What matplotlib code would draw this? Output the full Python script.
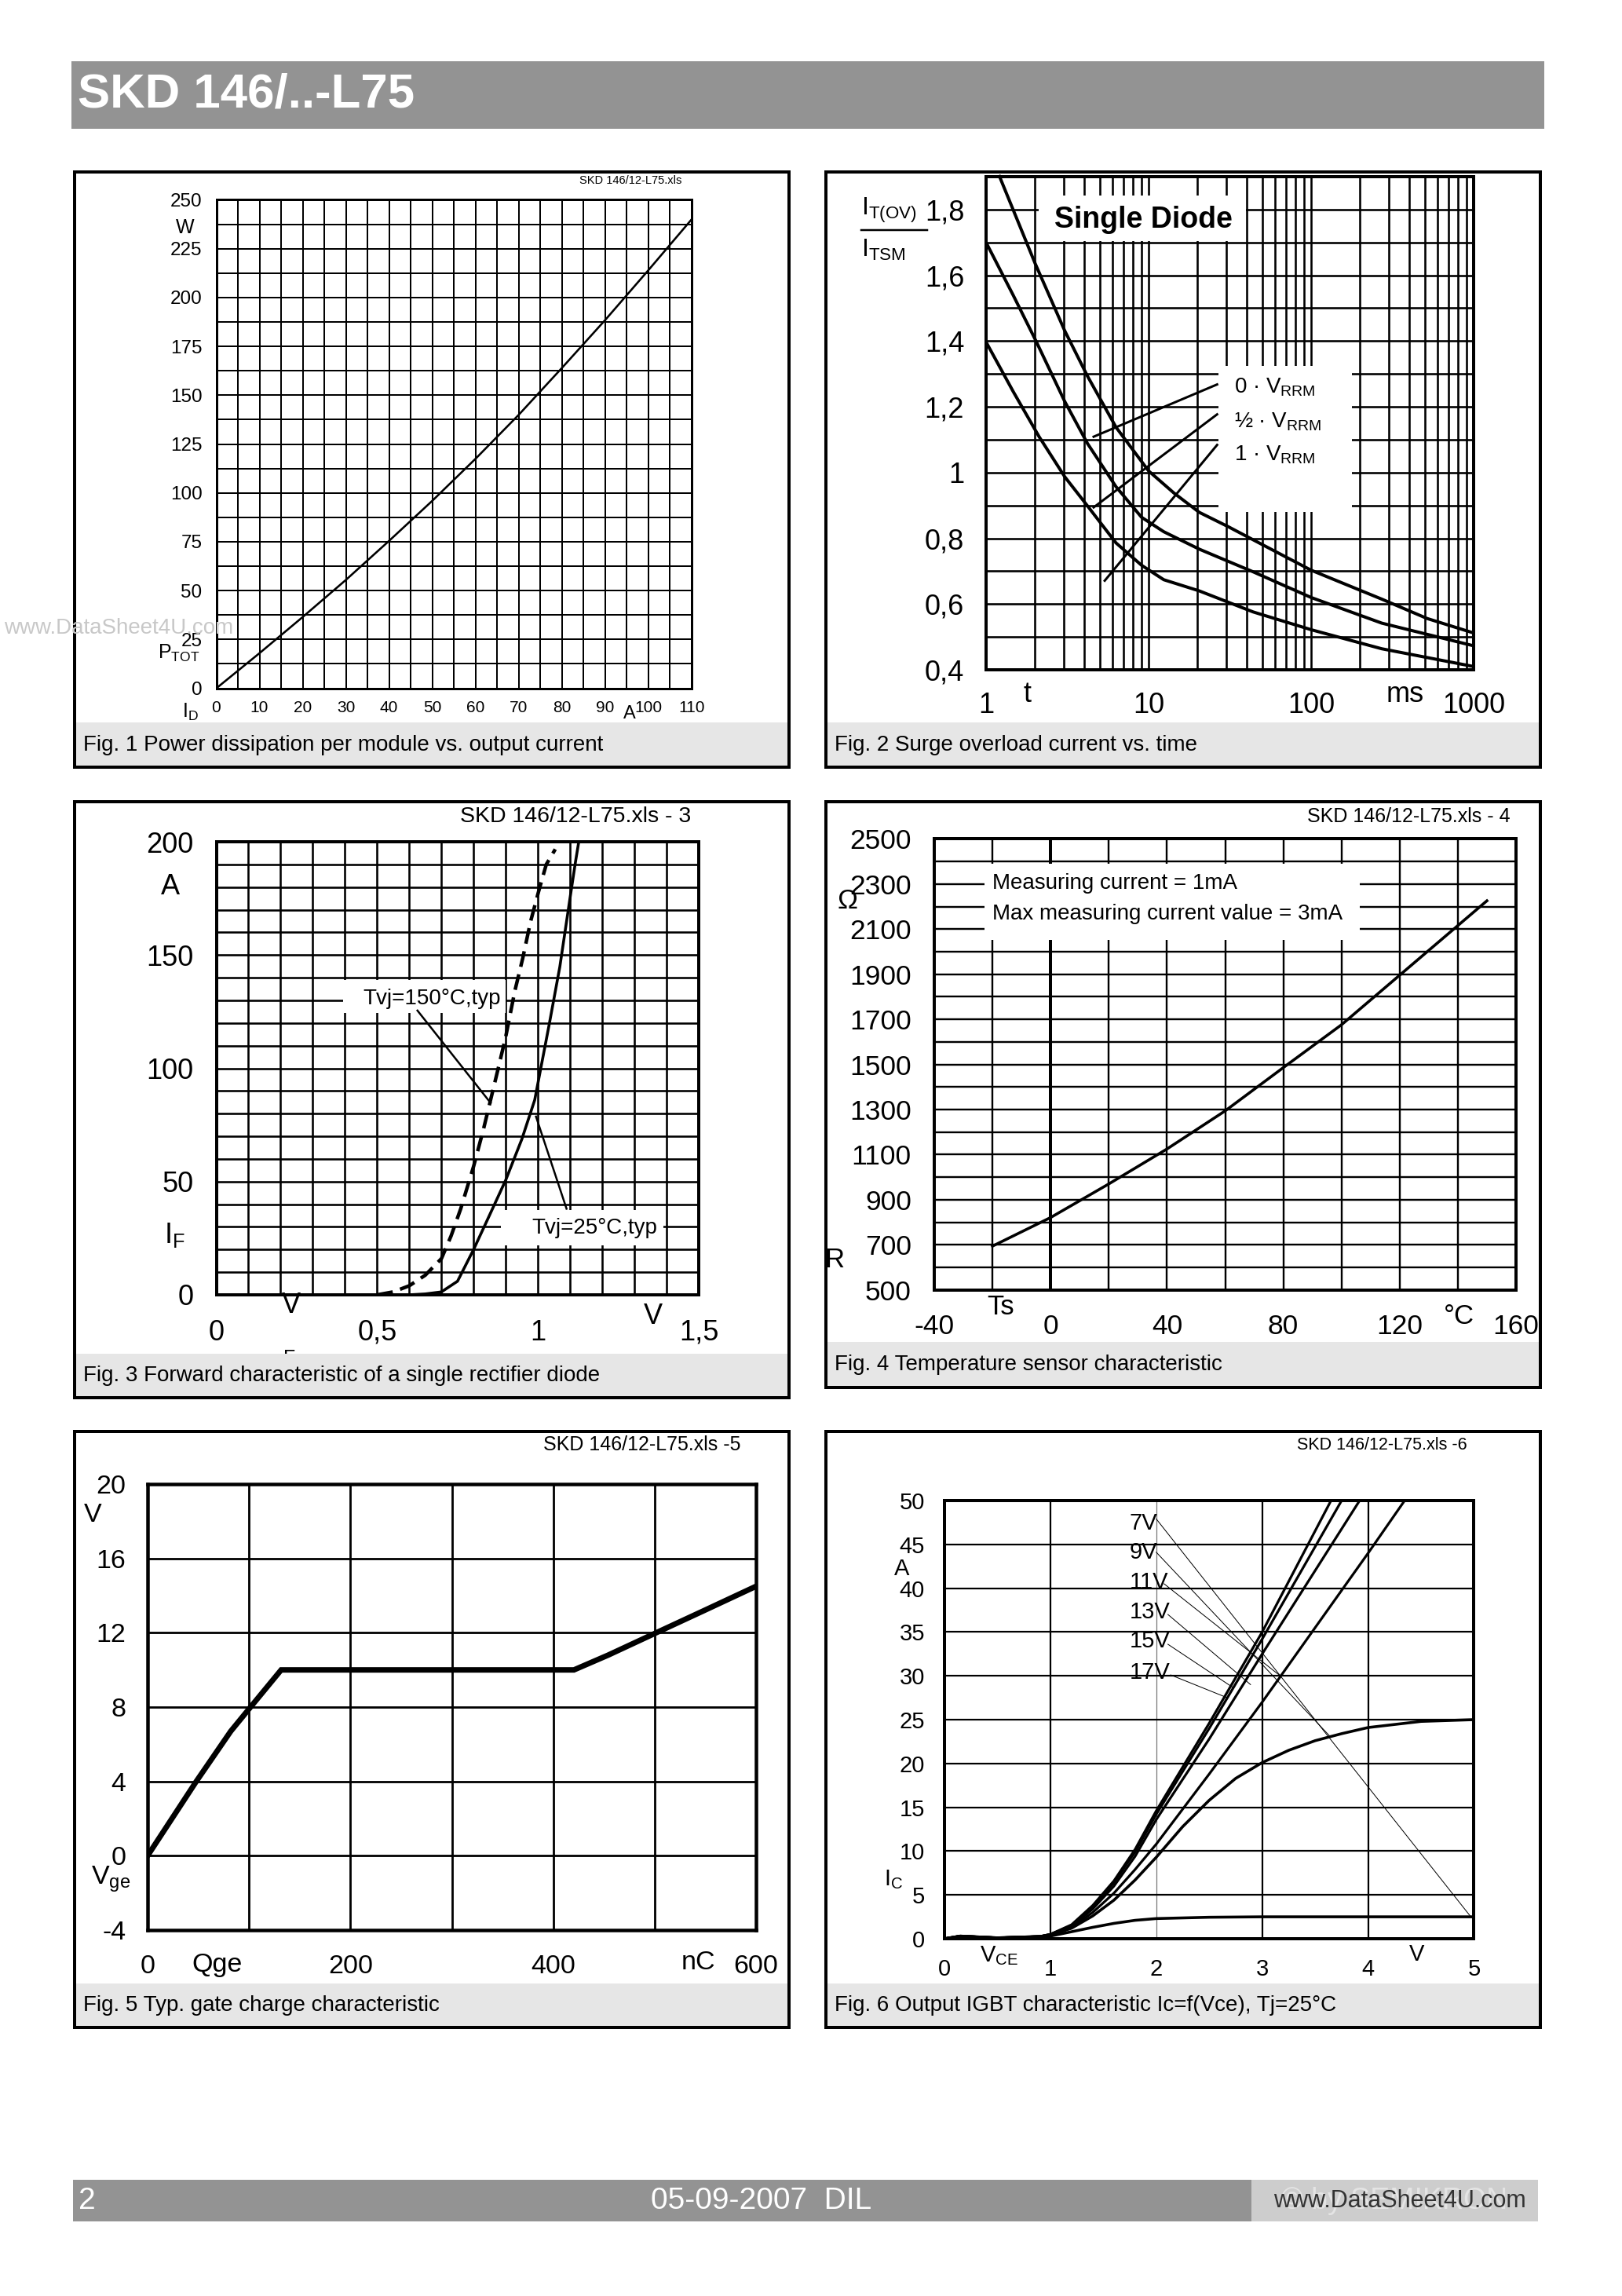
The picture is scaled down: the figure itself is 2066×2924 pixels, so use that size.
import matplotlib
matplotlib.use('Agg')
import matplotlib.pyplot as plt
from matplotlib.patches import Rectangle
from matplotlib.ticker import MultipleLocator, LogLocator, NullFormatter
import numpy as np

plt.rcParams['font.family'] = ['Liberation Sans', 'DejaVu Sans']
plt.rcParams['mathtext.fontset'] = 'custom'
plt.rcParams['mathtext.rm'] = 'Liberation Sans'
plt.rcParams['mathtext.it'] = 'Liberation Sans:italic'
plt.rcParams['mathtext.bf'] = 'Liberation Sans:bold'
plt.rcParams['mathtext.default'] = 'regular'
plt.rcParams['axes.unicode_minus'] = False

# ---------------- data ----------------
# Fig 1: power dissipation vs output current
p1_current = [0, 10, 20, 30, 40, 50, 60, 70, 80, 90, 100, 110]
p1_power = [0, 18, 36.5, 55.5, 75.5, 96, 117.5, 140, 164, 188.5, 214, 240]

# Fig 2: surge overload current vs time
p2_t_0 = [1.2, 2.0, 3.05, 4.2, 6.3, 10, 14.3, 20.5, 31, 50, 100, 272, 518, 1000]
p2_r_0 = [1.905, 1.637, 1.431, 1.294, 1.138, 1.005, 0.938, 0.879, 0.835, 0.781, 0.703, 0.615, 0.556, 0.512]
p2_t_half = [1, 1.47, 2.02, 3.05, 4.2, 6.3, 9.05, 12.4, 20.5, 44, 100, 272, 1000]
p2_r_half = [1.70, 1.539, 1.402, 1.216, 1.089, 0.957, 0.864, 0.820, 0.767, 0.698, 0.620, 0.542, 0.473]
p2_t_1 = [1, 1.47, 2.12, 3.05, 4.2, 6.3, 9.05, 12.4, 20.5, 44, 100, 272, 1000]
p2_r_1 = [1.397, 1.246, 1.109, 0.987, 0.899, 0.786, 0.718, 0.674, 0.640, 0.576, 0.522, 0.464, 0.410]
p2_labels = ['0 · $V_{RRM}$', '½ · $V_{RRM}$', '1 · $V_{RRM}$']

# Fig 3: forward characteristic
p3_v25 = [0.50, 0.60, 0.65, 0.70, 0.75, 0.80, 0.85, 0.90, 0.95, 0.99, 1.035, 1.068, 1.10, 1.117, 1.127]
p3_i25 = [0, 0, 0.4, 1.3, 6, 20, 35.3, 50.7, 68.7, 86, 119.3, 144.7, 175.3, 191.3, 200]
p3_v150 = [0.50, 0.55, 0.60, 0.65, 0.70, 0.73, 0.76, 0.80, 0.83, 0.855, 0.88, 0.90, 0.928, 0.953, 0.977, 1.002, 1.026, 1.054]
p3_i150 = [0, 1.3, 4, 8.7, 16, 26, 38, 56.7, 72.7, 87.3, 102, 114, 134, 148.7, 164.7, 178, 190, 196.7]

# Fig 4: temperature sensor
p4_temp = [-20, 0, 20, 40, 60, 80, 100, 120, 140, 150]
p4_res = [694, 821, 970, 1125, 1294, 1486, 1676, 1896, 2116, 2226]

# Fig 5: gate charge
p5_charge = [0, 48, 82, 101.5, 131.7, 420.4, 454.3, 501.6, 549, 600]
p5_vge = [0, 4, 6.7, 8.0, 10.0, 10.0, 10.8, 12, 13.2, 14.5]

# Fig 6: output IGBT characteristic
p6_v_steep = [0, 0.15, 0.5, 0.9, 1.0, 1.2, 1.4, 1.6, 1.8, 2.0, 2.5, 3.0]
p6_i17 = [0, 0.3, 0.1, 0.25, 0.5, 1.6, 3.8, 6.6, 10.2, 14.6, 24.6, 35.0]
p6_i15 = [0, 0.3, 0.1, 0.25, 0.5, 1.5, 3.6, 6.4, 9.9, 14.2, 24.0, 34.2]
p6_i13 = [0, 0.3, 0.1, 0.25, 0.5, 1.4, 3.4, 6.0, 9.4, 13.6, 22.8, 32.5]
p6_end17, p6_end15, p6_end13 = 3.65, 3.75, 3.92
p6_v11 = [0, 0.15, 0.5, 0.9, 1.0, 1.2, 1.4, 1.6, 1.8, 2.0, 2.5, 3.0, 3.5, 4.0, 4.345]
p6_i11 = [0, 0.3, 0.1, 0.25, 0.45, 1.3, 3.0, 5.2, 7.9, 10.8, 18.8, 27.0, 35.5, 44.0, 50]
p6_v9 = [0, 0.15, 0.5, 0.9, 1.0, 1.2, 1.4, 1.6, 1.8, 2.0, 2.25, 2.5, 2.75, 3.0, 3.25, 3.5, 3.75, 4.0, 4.5, 5.0]
p6_i9 = [0, 0.3, 0.1, 0.25, 0.4, 1.2, 2.6, 4.4, 6.7, 9.3, 12.8, 15.8, 18.3, 20.1, 21.5, 22.6, 23.4, 24.1, 24.8, 25.0]
p6_v7 = [0, 0.15, 0.5, 0.9, 1.0, 1.2, 1.4, 1.6, 1.8, 2.0, 2.5, 3.0, 5.0]
p6_i7 = [0, 0.3, 0.1, 0.25, 0.3, 0.8, 1.3, 1.75, 2.1, 2.3, 2.45, 2.5, 2.5]
p6_labels = ['7V', '9V', '11V', '13V', '15V', '17V']

captions = [
    'Fig. 1 Power dissipation per module vs. output current',
    'Fig. 2 Surge overload current vs. time',
    'Fig. 3 Forward characteristic of a single rectifier diode',
    'Fig. 4 Temperature sensor characteristic',
    'Fig. 5 Typ. gate charge characteristic',
    'Fig. 6 Output IGBT characteristic Ic=f(Vce), Tj=25°C',
]

# ---------------- helpers ----------------
W, H = 2066, 2924
fig = plt.figure(figsize=(W / 100, H / 100), dpi=100)


def pt(px):
    return px * 0.72


def make_ax(L, T, R, B):
    ax = fig.add_axes([L / W, 1 - B / H, (R - L) / W, (B - T) / H])
    ax._pxbox = (L, T, R, B)
    return ax


def ptext(ax, x, y, s, **kw):
    L, T, R, B = ax._pxbox
    kw.setdefault('ha', 'center')
    kw.setdefault('va', 'center')
    return ax.text((x - L) / (R - L), (B - y) / (B - T), s, transform=ax.transAxes,
                   clip_on=False, **kw)


def style(ax, spine_px, grid_px, xsize, ysize, xpad, ypad):
    ax.set_axisbelow(True)
    ax.grid(True, which='both', color='black', lw=pt(grid_px))
    ax.tick_params(which='both', length=0)
    ax.tick_params(axis='x', labelsize=xsize, pad=xpad)
    ax.tick_params(axis='y', labelsize=ysize, pad=ypad)
    for s in ax.spines.values():
        s.set_linewidth(pt(spine_px))
        s.set_zorder(5)


# ---------------- Fig 1 ----------------
ax1 = make_ax(275.5, 254.4, 881, 876.6)
ax1.plot(p1_current, p1_power, color='black', lw=pt(2.6), zorder=3)
ax1.set_xlim(0, 110)
ax1.set_ylim(0, 250)
ax1.set_xticks(np.arange(0, 111, 10))
ax1.set_yticks(np.arange(0, 251, 25))
ax1.xaxis.set_minor_locator(MultipleLocator(5))
ax1.yaxis.set_minor_locator(MultipleLocator(12.5))
style(ax1, 3, 2, 15, 17.5, 11, 13)
ptext(ax1, 236, 290, 'W', fontsize=18)
ptext(ax1, 228, 832, '$P_{TOT}$', fontsize=18)
ptext(ax1, 242, 907, '$I_D$', fontsize=18)
ptext(ax1, 802, 909, 'A', fontsize=17)
ptext(ax1, 803, 230, 'SKD 146/12-L75.xls', fontsize=10.5)

# ---------------- Fig 2 ----------------
ax2 = make_ax(1256, 225, 1877, 853)
ax2.set_xscale('log')
ax2.set_xlim(1, 1000)
ax2.set_ylim(0.4, 1.9)
ax2.set_xticks([1, 10, 100, 1000], ['1', '10', '100', '1000'])
ax2.xaxis.set_minor_locator(LogLocator(base=10, subs=range(2, 10)))
ax2.xaxis.set_minor_formatter(NullFormatter())
ax2.set_yticks([0.4, 0.6, 0.8, 1.0, 1.2, 1.4, 1.6, 1.8],
               ['0,4', '0,6', '0,8', '1', '1,2', '1,4', '1,6', '1,8'])
ax2.yaxis.set_minor_locator(MultipleLocator(0.1))
style(ax2, 4, 2.6, 26, 26, 20, 20)
for tx, ry in [(p2_t_0, p2_r_0), (p2_t_half, p2_r_half), (p2_t_1, p2_r_1)]:
    ax2.plot(tx, ry, color='black', lw=pt(4), zorder=3, clip_on=False, solid_capstyle='butt')
ax2.add_patch(Rectangle((2.117, 1.705), 39.7 - 2.117, 1.842 - 1.705, facecolor='white',
                        edgecolor='none', zorder=1))
ax2.add_patch(Rectangle((27.0, 0.88), 177.8 - 27.0, 1.325 - 0.88, facecolor='white',
                        edgecolor='none', zorder=1))
ptext(ax2, 1456, 280, 'Single Diode', fontsize=27, fontweight='bold')
for (x0, y0, x1, y1) in [(4.59, 1.109, 26.4, 1.268), (4.59, 0.894, 26.4, 1.177),
                         (5.37, 0.671, 26.4, 1.084)]:
    ax2.plot([x0, x1], [y0, y1], color='black', lw=pt(3), zorder=3)
for lab, yy in zip(p2_labels, [493, 537, 579]):
    ptext(ax2, 1572, yy, lab, fontsize=20, ha='left')
ptext(ax2, 1097, 268, '$I_{T(OV)}$', fontsize=23, ha='left')
ptext(ax2, 1097, 318, '$I_{TSM}$', fontsize=23, ha='left')
ax2.plot([(1097 - 1256) / 621, (1181 - 1256) / 621], [(853 - 293) / 628] * 2,
         transform=ax2.transAxes, clip_on=False, color='black', lw=pt(2.5))
ptext(ax2, 1309, 884, 't', fontsize=26)
ptext(ax2, 1790, 884, 'ms', fontsize=26)

# ---------------- Fig 3 ----------------
ax3 = make_ax(275.5, 1072, 890, 1649)
ax3.set_xlim(0, 1.5)
ax3.set_ylim(0, 200)
ax3.set_xticks([0, 0.5, 1.0, 1.5], ['0', '0,5', '1', '1,5'])
ax3.set_yticks([0, 50, 100, 150, 200])
ax3.xaxis.set_minor_locator(MultipleLocator(0.1))
ax3.yaxis.set_minor_locator(MultipleLocator(10))
style(ax3, 4, 2.6, 26, 26, 22, 21)
ax3.plot(p3_v25, p3_i25, color='black', lw=pt(3.6), zorder=3)
ax3.plot(p3_v150, p3_i150, color='black', lw=pt(4.5), zorder=3, dashes=(4.5, 2.2))
ax3.add_patch(Rectangle((0.395, 124.5), 0.9 - 0.395, 139 - 124.5, facecolor='white',
                        edgecolor='none', zorder=1))
ax3.add_patch(Rectangle((0.885, 22), 1.39 - 0.885, 37.5 - 22, facecolor='white',
                        edgecolor='none', zorder=1))
ptext(ax3, 550, 1272, 'Tvj=150°C,typ', fontsize=20)
ptext(ax3, 757, 1564, 'Tvj=25°C,typ', fontsize=20)
ax3.plot([0.6254, 0.853], [125.5, 84.7], color='black', lw=pt(2.5), zorder=3)
ax3.plot([0.994, 1.089], [78.7, 38.0], color='black', lw=pt(2.5), zorder=3)
ptext(ax3, 217, 1129, 'A', fontsize=26)
ptext(ax3, 222, 1573, '$I_F$', fontsize=26)
ptext(ax3, 371, 1662, 'V', fontsize=26)
ptext(ax3, 369, 1730, 'F', fontsize=18)
ptext(ax3, 832, 1676, 'V', fontsize=26)
ptext(ax3, 733, 1040, 'SKD 146/12-L75.xls - 3', fontsize=20.5)

# ---------------- Fig 4 ----------------
ax4 = make_ax(1190, 1068.5, 1931, 1642.7)
ax4.set_xlim(-40, 160)
ax4.set_ylim(500, 2500)
ax4.set_xticks(np.arange(-40, 161, 40))
ax4.set_yticks(np.arange(500, 2501, 200))
ax4.xaxis.set_minor_locator(MultipleLocator(20))
ax4.yaxis.set_minor_locator(MultipleLocator(100))
style(ax4, 4, 2.4, 25.5, 25.5, 22, 21)
ax4.axvline(0, color='black', lw=pt(4), zorder=0.6)
ax4.add_patch(Rectangle((-22.7, 2052), 106.2 + 22.7, 2390 - 2052, facecolor='white',
                        edgecolor='none', zorder=1))
ax4.plot(p4_temp, p4_res, color='black', lw=pt(3.6), zorder=3)
ptext(ax4, 1264, 1125, 'Measuring current = 1mA', fontsize=20, ha='left')
ptext(ax4, 1264, 1164, 'Max measuring current value = 3mA', fontsize=20, ha='left')
ptext(ax4, 1080, 1148, 'Ω', fontsize=25)
ptext(ax4, 1063, 1605, 'R', fontsize=25)
ptext(ax4, 1275, 1665, 'Ts', fontsize=25)
ptext(ax4, 1858, 1676, '°C', fontsize=25)
ptext(ax4, 1924, 1040, 'SKD 146/12-L75.xls - 4', fontsize=18, ha='right')

# ---------------- Fig 5 ----------------
ax5 = make_ax(188, 1890, 963, 2458)
ax5.set_xlim(0, 600)
ax5.set_ylim(-4, 20)
ax5.set_xticks([0, 200, 400, 600])
ax5.set_yticks(np.arange(-4, 21, 4))
ax5.xaxis.set_minor_locator(MultipleLocator(100))
style(ax5, 4.5, 2.8, 24.5, 24.5, 22, 20)
ax5.plot(p5_charge, p5_vge, color='black', lw=pt(7), zorder=3, solid_joinstyle='miter')
ptext(ax5, 118, 1930, 'V', fontsize=24.5)
ptext(ax5, 116, 2393, '$V_{ge}$', fontsize=24.5, ha='left')
ptext(ax5, 277, 2503, 'Qge', fontsize=24.5)
ptext(ax5, 890, 2500, 'nC', fontsize=24.5)
ptext(ax5, 818, 1840, 'SKD 146/12-L75.xls -5', fontsize=18)

# ---------------- Fig 6 ----------------
ax6 = make_ax(1203, 1911, 1877.5, 2469)
ax6.set_xlim(0, 5)
ax6.set_ylim(0, 50)
ax6.set_xticks(np.arange(0, 6, 1))
ax6.set_yticks(np.arange(0, 51, 5))
style(ax6, 4, 2.2, 21, 21, 18, 18)
gl = ax6.get_xgridlines()
gl[2].set_color('0.45')
gl[2].set_linewidth(pt(1.2))
ax6.plot(p6_v_steep + [p6_end17], p6_i17 + [50], color='black', lw=pt(3.2), zorder=3)
ax6.plot(p6_v_steep + [p6_end15], p6_i15 + [50], color='black', lw=pt(3.2), zorder=3)
ax6.plot(p6_v_steep + [p6_end13], p6_i13 + [50], color='black', lw=pt(3.2), zorder=3)
ax6.plot(p6_v11, p6_i11, color='black', lw=pt(3.2), zorder=3)
ax6.plot(p6_v9, p6_i9, color='black', lw=pt(3.6), zorder=3)
ax6.plot(p6_v7, p6_i7, color='black', lw=pt(3.6), zorder=3)
label_y = [47.4, 44.1, 40.7, 37.25, 33.96, 30.4]
leaders = [(2.0, 47.9, 4.97, 2.5), (2.0, 44.1, 3.64, 23.1), (2.074, 40.5, 3.17, 30.0),
           (2.11, 37.0, 2.89, 29.0), (2.11, 33.6, 2.72, 28.7), (2.136, 30.1, 2.67, 27.5)]
for lab, yy, (x0, y0, x1, y1) in zip(p6_labels, label_y, leaders):
    ax6.text(1.747, yy, lab, fontsize=21, ha='left', va='center', zorder=4)
    ax6.plot([x0, x1], [y0, y1], color='black', lw=pt(1.0), zorder=3)
ptext(ax6, 1149, 1998, 'A', fontsize=21)
ptext(ax6, 1126, 2394, '$I_C$', fontsize=21, ha='left')
ptext(ax6, 1248, 2491, '$V_{CE}$', fontsize=21, ha='left')
ptext(ax6, 1805, 2489, 'V', fontsize=21)
ptext(ax6, 1760, 1840, 'SKD 146/12-L75.xls -6', fontsize=15.5)

# ---------------- page overlay ----------------
ov = fig.add_axes([0, 0, 1, 1], zorder=20)
ov.set_xlim(0, W)
ov.set_ylim(H, 0)
ov.axis('off')

# header
ov.add_patch(Rectangle((91, 78), 1876, 86, facecolor='#939393', edgecolor='none'))
ov.text(99, 121, 'SKD 146/..-L75', color='white', fontsize=44.5, fontweight='bold',
        ha='left', va='center')

# panels: frames + caption strips
frames = [(95, 219, 1005, 977, 920), (1052, 219, 1962, 977, 920),
          (95, 1021, 1005, 1780, 1724), (1052, 1021, 1962, 1767, 1709),
          (95, 1823, 1005, 2582, 2526), (1052, 1823, 1962, 2582, 2526)]
for (L, T, R, B, S), cap in zip(frames, captions):
    ov.add_patch(Rectangle((L, S), R - L, B - S, facecolor='#e6e6e6', edgecolor='none'))
    ov.add_patch(Rectangle((L, T), R - L, B - T, facecolor='none', edgecolor='black',
                           lw=pt(4)))
    ov.text(L + 11, (S + B) / 2, cap, fontsize=20, ha='left', va='center')

# watermark
ov.text(297, 800, 'www.DataSheet4U.com', ha='right', va='center', color='#c8c8c8',
        fontsize=20)

# footer
ov.add_patch(Rectangle((93, 2776), 1866, 53, facecolor='#939393', edgecolor='none'))
ov.add_patch(Rectangle((1594, 2776), 365, 53, facecolor='#cdcdcd', edgecolor='none'))
ov.text(100, 2803, '2', color='white', fontsize=28, ha='left', va='center')
ov.text(970, 2803, '05-09-2007  DIL', color='white', fontsize=28, ha='center', va='center')
ov.text(1776, 2803, '© by SEMIKRON', color='#e4e4e4', fontsize=27, ha='center', va='center')
ov.text(1783, 2803, 'www.DataSheet4U.com', color='#333333', fontsize=22, ha='center',
        va='center')

fig.savefig('out.png', dpi=100, facecolor='white')
